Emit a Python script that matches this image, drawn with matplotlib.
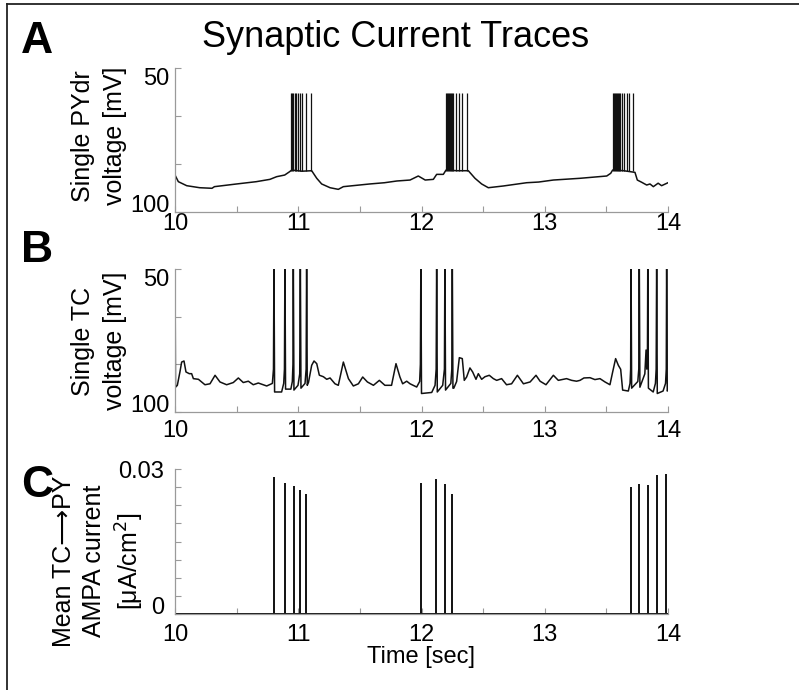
"""
Synaptic current traces: single PY / TC voltage and mean TC->PY AMPA current.
Values read by eye from the reference figure.
"""

import matplotlib
matplotlib.use("Agg")
import matplotlib.pyplot as plt
from matplotlib.lines import Line2D

plt.rcParams['font.family'] = ['Liberation Sans', 'DejaVu Sans']

# ============================================================================
# DATA
# ============================================================================

X_TICKS = [10, 10.5, 11, 11.5, 12, 12.5, 13, 13.5, 14]
X_TICK_LABELS = ['10', '', '11', '', '12', '', '13', '', '14']

# --- Panel A: single PYdr voltage (slow trace + burst spikes) ---
A_t = [10.0, 10.027, 10.095, 10.2, 10.3, 10.32, 10.5, 10.66, 10.77, 10.825,
       10.89, 10.93, 10.947, 11.03, 11.109, 11.15, 11.19, 11.258, 11.325, 11.366,
       11.45, 11.58, 11.70, 11.80, 11.907, 11.974, 12.03, 12.096, 12.123, 12.177,
       12.199, 12.29, 12.38, 12.434, 12.488, 12.542, 12.664, 12.853, 12.95, 13.07,
       13.286, 13.503, 13.535, 13.551, 13.64, 13.732, 13.751, 13.786, 13.827, 13.854,
       13.881, 13.92, 13.948, 14.0]
A_v = [-61.5, -68.4, -72.6, -74.7, -75.3, -73.6, -70.8, -68.4, -66.0, -63.2,
       -61.5, -58.0, -56.3, -57.5, -57.0, -64.9, -70.8, -74.7, -76.4, -73.6,
       -72.5, -70.8, -69.5, -67.7, -66.7, -62.5, -66.7, -66.0, -60.8, -60.8,
       -56.3, -57.0, -57.0, -64.9, -70.8, -74.7, -72.9, -69.5, -68.8, -66.7,
       -64.9, -62.5, -59.7, -56.3, -57.0, -58.7, -66.7, -69.0, -71.9, -70.8,
       -73.6, -70.0, -72.6, -69.5]
A_spike_t = [10.939, 10.949, 10.960, 10.971, 10.982, 10.995, 11.011, 11.033, 11.066, 11.104,
             12.199, 12.207, 12.215, 12.223, 12.231, 12.239, 12.247, 12.258, 12.280, 12.307,
             12.331, 12.367,
             13.551, 13.559, 13.567, 13.575, 13.583, 13.591, 13.599, 13.610, 13.624, 13.643,
             13.664, 13.686, 13.718]
A_spike_base = -57.0
A_spike_peak = 23.6

# --- Panel B: single TC voltage (spikes run off the top of the axis) ---
B_t = [10.0, 10.004, 10.019, 10.04, 10.054, 10.073, 10.089, 10.116, 10.135, 10.149,
       10.19, 10.243, 10.284, 10.325, 10.365, 10.419, 10.473, 10.514, 10.554, 10.595,
       10.635, 10.676, 10.744, 10.790, 10.799, 10.803, 10.808, 10.865, 10.882, 10.888,
       10.892, 10.897, 10.94, 10.952, 10.957, 10.960, 10.965, 10.998, 11.012, 11.017,
       11.022, 11.055, 11.064, 11.068, 11.073, 11.083, 11.109, 11.128, 11.15, 11.171,
       11.204, 11.231, 11.258, 11.298, 11.325, 11.366, 11.407, 11.447, 11.488, 11.523,
       11.561, 11.61, 11.658, 11.703, 11.757, 11.793, 11.825, 11.847, 11.88, 11.907,
       11.961, 11.985, 11.991, 11.995, 12.0, 12.083, 12.11, 12.119, 12.123, 12.128,
       12.172, 12.186, 12.19, 12.195, 12.238, 12.246, 12.25, 12.255, 12.262, 12.285,
       12.307, 12.331, 12.347, 12.366, 12.393, 12.415, 12.442, 12.461, 12.488, 12.515,
       12.55, 12.583, 12.61, 12.65, 12.69, 12.731, 12.778, 12.827, 12.881, 12.929,
       12.962, 13.01, 13.07, 13.11, 13.15, 13.177, 13.218, 13.258, 13.286, 13.318,
       13.367, 13.407, 13.448, 13.489, 13.529, 13.551, 13.575, 13.597, 13.616, 13.632,
       13.678, 13.692, 13.697, 13.70, 13.705, 13.755, 13.763, 13.767, 13.772, 13.812,
       13.822, 13.828, 13.833, 13.836, 13.841, 13.88, 13.898, 13.904, 13.908, 13.913,
       13.96, 13.98, 13.986, 13.989, 13.994, 14.0]
B_v = [60, -74, -72, -58, -47.6, -46.5, -58, -59.8, -59.8, -65,
       -65.7, -71.4, -70.4, -61.5, -68.5, -71.4, -69.1, -64.3, -69.1, -67.7,
       -71.4, -69.6, -72.7, -70, -55, 60, -79, -79, -70, -55,
       60, -76, -76, -68, -50, 60, -77, -72, -60, 60,
       -75, -70, -55, 60, -72, -69, -51, -46.5, -49.3, -61.4,
       -63, -65.7, -64.3, -70.4, -72, -47.6, -65, -72.7, -70.4, -63.3,
       -68.5, -72, -66.8, -72, -72, -49.3, -63.3, -70.4, -67.7, -70.4,
       -73.8, -68, -50, 60, -80.6, -79.5, -72, -55, 60, -79,
       -72, -55, 60, -77, -70, -55, 60, -75, -75, -68,
       -43, -44, -66.8, -63.3, -53.8, -58, -65.7, -59.8, -65.7, -63,
       -61.5, -65, -66.8, -65, -71.4, -70.4, -61.5, -70.4, -68.5, -61.5,
       -67.7, -71.4, -61.5, -66.8, -65.7, -65, -66.8, -67.7, -66.8, -64.3,
       -64, -66, -65, -68.5, -71.4, -58, -44, -51, -55.2, -77,
       -78, -70, -55, 60, -75, -68, -55, 60, -74, -60,
       -35, -55, -50, 60, -75, -79, -70, -55, 60, -80.6,
       -78, -70, -55, 60, -78, -77]

# --- Panel C: mean TC->PY AMPA current ---
C_spike_t = [10.0, 10.806, 10.895, 10.963, 11.017, 11.066,
             11.996, 12.118, 12.19, 12.25,
             13.70, 13.767, 13.836, 13.908, 13.984]
C_spike_h = [0.0253, 0.0284, 0.0272, 0.0265, 0.0256, 0.0248,
             0.0272, 0.0279, 0.0270, 0.0248,
             0.0263, 0.0270, 0.0267, 0.0288, 0.0290]

# ============================================================================
# FIGURE
# ============================================================================

W, H = 799, 690
fig = plt.figure(figsize=(W / 100, H / 100), dpi=100)

AX_GRAY = '#9a9a9a'
TRACE = '#111111'
FS = 17


def px_box(left, top, right, bottom):
    """Axes rectangle from pixel edges."""
    return [left / W, 1 - bottom / H, (right - left) / W, (bottom - top) / H]


def style_axis(ax, xpad):
    for side in ['top', 'right']:
        ax.spines[side].set_visible(False)
    for side in ['left', 'bottom']:
        ax.spines[side].set_color(AX_GRAY)
        ax.spines[side].set_linewidth(0.9)
    ax.tick_params(direction='in', length=4, width=0.8, color=AX_GRAY,
                   labelsize=FS, labelcolor='black')
    ax.tick_params(axis='x', pad=xpad)
    ax.tick_params(axis='y', pad=4)
    ax.set_xlim(10, 14)
    ax.set_xticks(X_TICKS)
    ax.set_xticklabels(X_TICK_LABELS)
    ax.set_facecolor('none')


# Panel A
axA = fig.add_axes(px_box(175, 68, 668, 212))
axA.plot(A_t, A_v, color=TRACE, lw=1.1)
axA.vlines(A_spike_t, A_spike_base, A_spike_peak, color=TRACE, lw=0.9)
axA.set_ylim(-100, 50)
axA.set_yticks([-100, -50, 0, 50])
axA.set_yticklabels(['100', '', '', '50'])
style_axis(axA, xpad=1)

# Panel B
axB = fig.add_axes(px_box(175, 269, 668, 412))
axB.plot(B_t, B_v, color=TRACE, lw=1.1)
axB.set_ylim(-100, 50)
axB.set_yticks([-100, -50, 0, 50])
axB.set_yticklabels(['100', '', '', '50'])
style_axis(axB, xpad=6)

# Panel C
axC = fig.add_axes(px_box(175, 469, 668, 614))
axC.vlines(C_spike_t, 0, C_spike_h, color=TRACE, lw=1.4)
axC.axhline(0, color=TRACE, lw=1.4)
axC.set_ylim(0, 0.03)
axC.set_yticks([i * 0.03 / 8 for i in range(9)])
axC.set_yticklabels(['0'] + [''] * 7 + ['0.03'])
style_axis(axC, xpad=7)
axC.tick_params(axis='y', pad=8)

# y tick labels sit inside the axis range at the ends
for ax in [axA, axB]:
    labels = ax.get_yticklabels()
    labels[0].set_va('baseline')
    labels[-1].set_va('top')
axC.get_yticklabels()[0].set_va('baseline')

# Axis labels
fig.text(99 / W, 1 - 136 / H, 'Single PYdr\nvoltage [mV]', rotation=90,
         ha='center', va='center', multialignment='center', fontsize=FS + 1,
         linespacing=1.45)
fig.text(99 / W, 1 - 341 / H, 'Single TC\nvoltage [mV]', rotation=90,
         ha='center', va='center', multialignment='center', fontsize=FS + 1,
         linespacing=1.45)
fig.text(99 / W, 1 - 561 / H, 'Mean TC\u27f6PY\nAMPA current\n[\u03bcA/cm$^2$]',
         rotation=90, ha='center', va='center', multialignment='center',
         fontsize=FS + 1, linespacing=1.3)
fig.text(421 / W, 1 - 657 / H, 'Time [sec]', ha='center', va='center', fontsize=FS)

# Title and panel letters
fig.text(396 / W, 1 - 47 / H, 'Synaptic Current Traces', ha='center',
         va='baseline', fontsize=26)
for letter, base_y in [('A', 53), ('B', 262), ('C', 497)]:
    fig.text(21 / W, 1 - base_y / H, letter, ha='left', va='baseline',
             fontsize=32, fontweight='bold')

# Frame around the figure (top and left edges visible)
fig.add_artist(Line2D([7 / W, 7 / W], [1 - 4 / H, 0], color='#222222', lw=1.3))
fig.add_artist(Line2D([7 / W, 1], [1 - 4 / H, 1 - 4 / H], color='#222222', lw=1.3))

fig.savefig('out.png', dpi=100, facecolor='white')
